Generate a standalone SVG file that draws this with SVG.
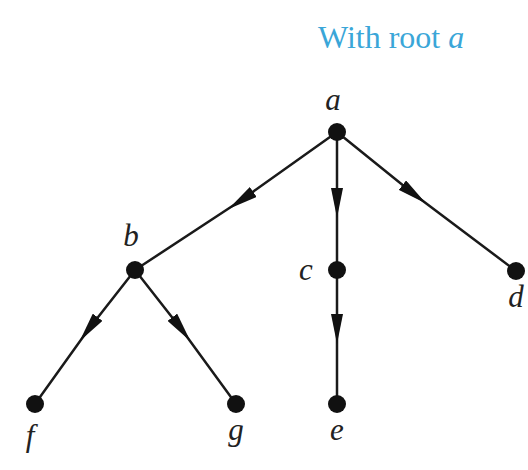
<svg xmlns="http://www.w3.org/2000/svg" width="528" height="470" viewBox="0 0 528 470">
<style>
.e{stroke:#1a1a1a;stroke-width:2.5;fill:none;marker-mid:url(#ah)}
.n{fill:#111}
.l{font-family:"Liberation Serif",serif;font-style:italic;font-size:31px;fill:#222;text-anchor:middle}
.t{font-family:"Liberation Serif",serif;font-size:32px;fill:#3aa6d8}
</style>
<defs>
<marker id="ah" viewBox="0 0 30 12" refX="16" refY="6" markerWidth="30" markerHeight="12" markerUnits="userSpaceOnUse" orient="auto">
<path d="M0,0 L30,6 L0,12 Z" fill="#111"/>
</marker>
</defs>
<rect width="528" height="470" fill="#fff"/>
<text class="t" x="318" y="48">With root <tspan font-style="italic">a</tspan></text>
<g id="edges">
<path class="e" d="M337,132 L240,201 L135,270"/>
<path class="e" d="M337,132 L337,204 L337,270"/>
<path class="e" d="M337,132 L415,195 L516,271"/>
<path class="e" d="M135,270 L88,330 L35,404"/>
<path class="e" d="M135,270 L182,330 L236,404"/>
<path class="e" d="M337,270 L337,330 L337,404"/>
</g>
<g id="node-a"><circle class="n" cx="337" cy="132" r="9"/><text class="l" x="333" y="110">a</text></g>
<g id="node-b"><circle class="n" cx="135" cy="270" r="9"/><text class="l" x="131" y="246">b</text></g>
<g id="node-c"><circle class="n" cx="337" cy="270" r="9"/><text class="l" x="306" y="280">c</text></g>
<g id="node-d"><circle class="n" cx="516" cy="271" r="9"/><text class="l" x="516" y="307">d</text></g>
<g id="node-f"><circle class="n" cx="35" cy="404" r="9"/><text class="l" x="30" y="446">f</text></g>
<g id="node-g"><circle class="n" cx="236" cy="404" r="9"/><text class="l" x="236" y="440">g</text></g>
<g id="node-e"><circle class="n" cx="337" cy="404" r="9"/><text class="l" x="337" y="440">e</text></g>
</svg>
